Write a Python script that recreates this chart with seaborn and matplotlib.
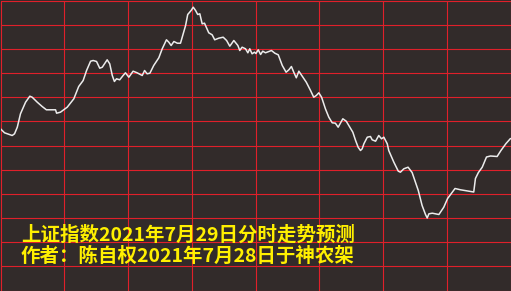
import numpy as np
import pandas as pd
import matplotlib
matplotlib.use("Agg")
import matplotlib.pyplot as plt
import seaborn as sns

# ---- data: minute of the trading session (0-240) and % change vs. reference ----
minutes = [0, 1.9, 5.5, 6.6, 7.9, 9.4, 11.8, 13.8, 14.9, 17.3, 19.6, 21.6, 25.9, 26.4, 28.2,
           31.4, 34.5, 36.8, 38.9, 40.5, 42.4, 43.6, 45.2, 46.7, 47.9, 50.2, 51.4, 52.6, 53.6,
           54.6, 56.1, 57.7, 58.8, 60.4, 62.4, 64.3, 66.7, 67.8, 69.0, 70.3, 72.1, 74.5, 76.1,
           78.1, 79.2, 80.3, 81.6, 83.2, 84.7, 86.0, 87.1, 88.1, 89.7, 90.7, 91.8, 92.8, 93.8,
           94.9, 96.0, 98.0, 99.6, 100.8, 102.7, 104.8, 106.4, 107.9, 109.8, 111.7, 112.6,
           113.7, 115.3, 116.4, 117.3, 118.4, 119.5, 120.2, 121.3, 122.4, 123.4, 124.7, 127.5,
           129.1, 130.7, 132.6, 134.4, 135.7, 136.9, 138.0, 139.2, 140.4, 142.3, 143.9, 145.9,
           147.4, 148.6, 149.8, 151.1, 152.9, 154.5, 156.1, 157.6, 158.9, 161.1, 162.7, 164.2,
           165.8, 167.1, 168.3, 169.4, 170.2, 171.0, 171.8, 172.6, 174.1, 174.9, 176.5, 178.0,
           179.3, 180.4, 182.0, 182.7, 185.1, 187.2, 188.2, 189.8, 191.8, 193.7, 196.6, 198.4,
           200.0, 200.8, 201.6, 203.2, 206.3, 208.6, 210.4, 213.9, 216.5, 220.4, 222.7, 223.5,
           224.9, 226.7, 228.7, 230.6, 233.7, 235.5, 237.9, 240]
pct_change = [0.167, 0.127, 0.10, 0.117, 0.183, 0.317, 0.433, 0.493, 0.483, 0.433, 0.39, 0.357,
              0.357, 0.323, 0.333, 0.383, 0.467, 0.59, 0.65, 0.75, 0.843, 0.85, 0.84, 0.773,
              0.783, 0.857, 0.817, 0.70, 0.64, 0.667, 0.657, 0.70, 0.727, 0.683, 0.743, 0.727,
              0.70, 0.75, 0.717, 0.723, 0.80, 0.877, 0.967, 1.057, 1.033, 1.00, 1.04, 1.023,
              1.023, 1.117, 1.20, 1.31, 1.35, 1.383, 1.35, 1.31, 1.317, 1.217, 1.223, 1.127,
              1.107, 1.057, 1.073, 1.083, 1.05, 0.993, 1.05, 1.00, 0.95, 0.983, 0.967, 0.927,
              0.967, 0.917, 0.933, 0.92, 0.957, 0.91, 0.943, 0.927, 0.95, 0.923, 0.907, 0.80,
              0.733, 0.757, 0.79, 0.733, 0.677, 0.743, 0.683, 0.633, 0.55, 0.483, 0.50, 0.527,
              0.483, 0.367, 0.283, 0.227, 0.223, 0.183, 0.267, 0.243, 0.19, 0.133, 0.05, -0.017,
              -0.05, -0.033, 0.017, 0.05, 0.083, 0.09, 0.057, 0.043, 0.10, 0.067, 0.083, 0.017,
              -0.05, -0.167, -0.257, -0.267, -0.233, -0.217, -0.27, -0.45, -0.60, -0.69, -0.725,
              -0.683, -0.677, -0.69, -0.617, -0.53, -0.43, -0.443, -0.457, -0.465, -0.33, -0.27,
              -0.217, -0.115, -0.105, -0.11, -0.05, 0.02, 0.07]

title_line = "上证指数2021年7月29日分时走势预测"
author_line = "作者：陈自权2021年7月28日于神农架"

df = pd.DataFrame({"minute": minutes, "pct": pct_change})

sns.set_theme(style="dark")
plt.rcParams["font.family"] = ["Noto Sans CJK SC", "DejaVu Sans"]

BG = "#322b2a"
GRID = "#e0202a"

W, H = 511, 291
fig = plt.figure(figsize=(W / 100, H / 100), dpi=100, facecolor=BG)
ax = fig.add_axes([0.5 / W, 0.5 / H, 510 / W, 290 / H])
ax.set_facecolor(BG)

ax.set_xlim(0, 240)
ax.set_ylim(-1.45, 1.45)

for xv in np.linspace(0, 240, 9):
    ax.axvline(xv, color=GRID, lw=0.8, clip_on=False, zorder=1)
for yv in np.linspace(-1.45, 1.45, 13):
    ax.axhline(yv, color=GRID, lw=0.8, clip_on=False, zorder=1)

sns.lineplot(data=df, x="minute", y="pct", sort=False, estimator=None,
             color="#ececec", lw=1.1, ax=ax, zorder=3)

for s in ax.spines.values():
    s.set_visible(False)
ax.set_xticks([])
ax.set_yticks([])
ax.set_xlabel("")
ax.set_ylabel("")

fig.text(21.5 / W, 1 - 240.5 / H, title_line, color="#fff000", fontsize=14,
         fontweight="bold", ha="left", va="baseline")
fig.text(21.0 / W, 1 - 262.0 / H, author_line, color="#fff000", fontsize=14,
         fontweight="bold", ha="left", va="baseline")

fig.savefig("out.png", dpi=100, facecolor=BG)
